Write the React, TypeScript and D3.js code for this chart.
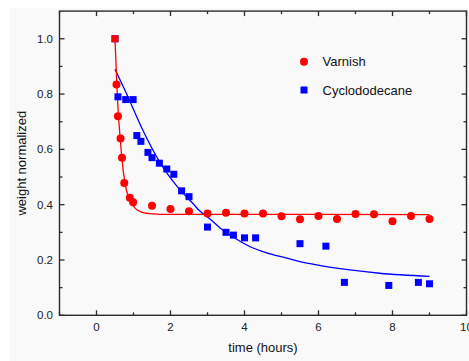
import React from "react";
import * as d3 from "d3";

const varnishX = [0.5, 0.54, 0.58, 0.65, 0.69, 0.75, 0.9, 0.99, 1.5, 2.0, 2.5, 3.0, 3.5, 4.0, 4.5, 5.0, 5.5, 6.0, 6.5, 7.0, 7.5, 8.0, 8.5, 9.0];
const varnishY = [1.0, 0.835, 0.72, 0.639, 0.57, 0.478, 0.425, 0.409, 0.396, 0.384, 0.376, 0.368, 0.371, 0.368, 0.368, 0.358, 0.347, 0.359, 0.348, 0.366, 0.365, 0.34, 0.359, 0.348];

const cycloX = [0.5, 0.58, 0.79, 0.99, 1.09, 1.2, 1.39, 1.5, 1.7, 1.9, 2.09, 2.3, 2.5, 3.0, 3.5, 3.7, 4.0, 4.3, 5.5, 6.2, 6.7, 7.9, 8.7, 9.0];
const cycloY = [1.0, 0.79, 0.78, 0.78, 0.65, 0.629, 0.589, 0.57, 0.55, 0.529, 0.51, 0.45, 0.429, 0.319, 0.3, 0.29, 0.28, 0.28, 0.259, 0.25, 0.119, 0.108, 0.119, 0.114];

const varnishFitX = [0.5, 0.56, 0.6, 0.63, 0.69, 0.77, 0.9, 1.0, 1.08, 1.2, 1.35, 1.5, 1.71, 2.0, 9.0];
const varnishFitY = [1.0, 0.803, 0.71, 0.658, 0.562, 0.477, 0.417, 0.395, 0.383, 0.374, 0.369, 0.367, 0.365, 0.365, 0.364];

const cycloFitX = [0.5, 0.8, 1.25, 1.7, 2.15, 2.6, 2.8, 3.05, 3.35, 3.7, 4.15, 4.6, 5.05, 5.5, 5.95, 6.85, 7.65, 9.0];
const cycloFitY = [0.89, 0.805, 0.67, 0.556, 0.471, 0.405, 0.376, 0.35, 0.315, 0.282, 0.248, 0.226, 0.21, 0.194, 0.182, 0.164, 0.152, 0.141];

const xMajor = [0, 2, 4, 6, 8, 10];
const xMinor = [-1, 1, 3, 5, 7, 9];
const yMajor = [0, 0.2, 0.4, 0.6, 0.8, 1.0];
const yMinor = [0.1, 0.3, 0.5, 0.7, 0.9];

const seriesNames = ["Varnish", "Cyclododecane"];

export default function App() {
  const W = 469, H = 361;
  const x = d3.scaleLinear().domain([-1, 10]).range([59.5, 466.5]);
  const y = d3.scaleLinear().domain([0, 1.1]).range([315.3, 11.1]);
  const left = x(-1), right = x(10), top = y(1.1), bottom = y(0);
  const line = d3.line<[number, number]>().x(d => x(d[0])).y(d => y(d[1])).curve(d3.curveMonotoneX);
  const vFit = varnishFitX.map((v, i) => [v, varnishFitY[i]] as [number, number]);
  const cFit = cycloFitX.map((v, i) => [v, cycloFitY[i]] as [number, number]);
  const axisColor = "#2b2b2b";
  const font = "Liberation Sans, Arial, sans-serif";
  const major = 5, minor = 3;
  return (
    <svg width={W} height={H} style={{ position: "absolute", left: 0, top: 0 }} fontFamily={font}>
      <rect x={0} y={0} width={W} height={H} fill="#ffffff" />
      <rect x={10} y={8} width={W - 10} height={H - 8} fill="#f9f9f9" />
      <defs>
        <clipPath id="plot">
          <rect x={left} y={top} width={right - left} height={bottom - top} />
        </clipPath>
      </defs>
      <g clipPath="url(#plot)">
        <path d={line(cFit) || ""} fill="none" stroke="#0000ff" strokeWidth={1.3} />
        <path d={line(vFit) || ""} fill="none" stroke="#ff0000" strokeWidth={1.3} />
        {cycloX.map((v, i) => (
          <rect key={"c" + i} x={x(v) - 3.5} y={y(cycloY[i]) - 3.5} width={7} height={7} fill="#0000ff" />
        ))}
        {varnishX.map((v, i) =>
          i === 0 ? (
            <rect key={"v" + i} x={x(v) - 3.5} y={y(varnishY[i]) - 3.5} width={7} height={7} fill="#ff0000" />
          ) : (
            <circle key={"v" + i} cx={x(v)} cy={y(varnishY[i])} r={4} fill="#ff0000" />
          )
        )}
      </g>
      <rect x={left} y={top} width={right - left} height={bottom - top} fill="none" stroke={axisColor} strokeWidth={1.4} />
      {xMajor.map(t => (
        <g key={"xm" + t}>
          <line x1={x(t)} x2={x(t)} y1={bottom} y2={bottom - major} stroke={axisColor} strokeWidth={1.3} />
          <line x1={x(t)} x2={x(t)} y1={top} y2={top + major} stroke={axisColor} strokeWidth={1.3} />
          <text x={x(t)} y={331} textAnchor="middle" fontSize={11.5} fill="#222">{t}</text>
        </g>
      ))}
      {xMinor.map(t => (
        <g key={"xn" + t}>
          <line x1={x(t)} x2={x(t)} y1={bottom} y2={bottom - minor} stroke={axisColor} strokeWidth={1.3} />
          <line x1={x(t)} x2={x(t)} y1={top} y2={top + minor} stroke={axisColor} strokeWidth={1.3} />
        </g>
      ))}
      {yMajor.map(t => (
        <g key={"ym" + t}>
          <line x1={left} x2={left + major} y1={y(t)} y2={y(t)} stroke={axisColor} strokeWidth={1.3} />
          <line x1={right} x2={right - major} y1={y(t)} y2={y(t)} stroke={axisColor} strokeWidth={1.3} />
          <text x={53} y={y(t) + 4} textAnchor="end" fontSize={11.5} fill="#222">{d3.format(".1f")(t)}</text>
        </g>
      ))}
      {yMinor.map(t => (
        <g key={"yn" + t}>
          <line x1={left} x2={left + minor} y1={y(t)} y2={y(t)} stroke={axisColor} strokeWidth={1.3} />
          <line x1={right} x2={right - minor} y1={y(t)} y2={y(t)} stroke={axisColor} strokeWidth={1.3} />
        </g>
      ))}
      <text x={(left + right) / 2} y={352} textAnchor="middle" fontSize={13} fill="#111">time (hours)</text>
      <text transform={`translate(26, ${(top + bottom) / 2}) rotate(-90)`} textAnchor="middle" fontSize={13} fill="#111">weight normalized</text>
      <circle cx={304} cy={61.7} r={4} fill="#ff0000" />
      <text x={322.5} y={66.2} fontSize={13} fill="#111">{seriesNames[0]}</text>
      <rect x={300.5} y={86.5} width={7} height={7} fill="#0000ff" />
      <text x={322.5} y={94.5} fontSize={13} fill="#111">{seriesNames[1]}</text>
    </svg>
  );
}
